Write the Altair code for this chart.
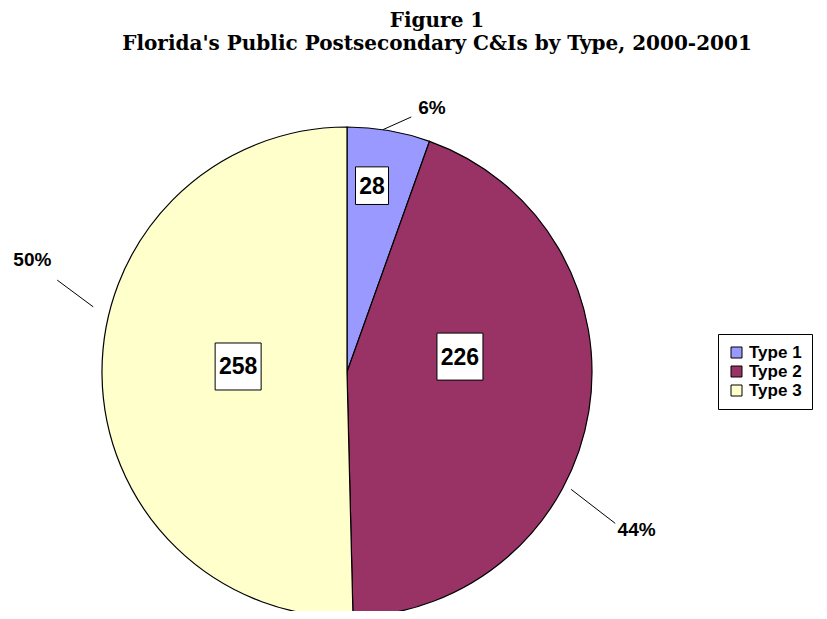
import math
import altair as alt
import pandas as pd

# ---- data ----
categories = ["Type 1", "Type 2", "Type 3"]
counts = [28, 226, 258]
colors = ["#9999FF", "#993366", "#FFFFCC"]
title_lines = ["Figure 1", "Florida's Public Postsecondary C&Is by Type, 2000-2001"]

# ---- layout (Excel-style manual label placement, degrees relative to slice mid, px radii) ----
box_dang = [-2.2, -16.9, 3.6]
box_r = [188, 114, 109]
pct_dang = [8.0, 19.5, 20.3]
pct_r = [277, 330, 334]
line_dang0 = [-1.4, 18.5, 15.1]
line_r0 = [245, 253, 262]
line_dang1 = [4.3, 20.3, 18.3]
line_r1 = [263, 308, 304]

CX, CY, R = 339, 364, 245
W, H = 811, 603

# percentages rounded so that they add up to 100 (largest remainder, as Excel shows)
tot = sum(counts)
raw = [100 * c / tot for c in counts]
fl = [math.floor(r) for r in raw]
left = 100 - sum(fl)
for i in sorted(range(len(raw)), key=lambda k: raw[k] - fl[k], reverse=True)[:left]:
    fl[i] += 1
pct_labels = [f"{p}%" for p in fl]

df = pd.DataFrame({
    "category": categories,
    "value": counts,
    "pct": pct_labels,
    "ord": list(range(len(categories))),
    "bda": box_dang, "br": box_r,
    "pda": pct_dang, "pr": pct_r,
    "la0": line_dang0, "lr0": line_r0,
    "la1": line_dang1, "lr1": line_r1,
})

base = alt.Chart(df).transform_joinaggregate(
    total="sum(value)"
).transform_window(
    cum="sum(value)", sort=[alt.SortField("ord")], frame=[None, 0]
).transform_calculate(
    mid="(datum.cum - datum.value/2)/datum.total*2*PI",
    lbl="toString(datum.value)",
).transform_calculate(
    ba="datum.mid + datum.bda*PI/180",
    pa="datum.mid + datum.pda*PI/180",
    a0="datum.mid + datum.la0*PI/180",
    a1="datum.mid + datum.la1*PI/180",
    nch="length(datum.lbl)",
).transform_calculate(
    bx=f"{CX} + datum.br*sin(datum.ba)",
    by=f"{CY} - datum.br*cos(datum.ba)",
    px=f"{CX} + datum.pr*sin(datum.pa)",
    py=f"{CY} - datum.pr*cos(datum.pa)",
    lx0=f"{CX} + datum.lr0*sin(datum.a0)",
    ly0=f"{CY} - datum.lr0*cos(datum.a0)",
    lx1=f"{CX} + datum.lr1*sin(datum.a1)",
    ly1=f"{CY} - datum.lr1*cos(datum.a1)",
    hw="6.5*datum.nch + 3.5",
    hh="4.7*datum.nch + 9.4",
).transform_calculate(
    bx0="datum.bx - datum.hw", bx1="datum.bx + datum.hw",
    by0="datum.by - datum.hh", by1="datum.by + datum.hh",
)

arcs = alt.Chart(df).mark_arc(radius=R, stroke="black", strokeWidth=1.2).encode(
    theta=alt.Theta("value:Q", stack=True),
    order=alt.Order("ord:Q"),
    color=alt.Color(
        "category:N",
        scale=alt.Scale(domain=categories, range=colors),
        legend=alt.Legend(
            title=None, orient="none", legendX=710, legendY=326,
            padding=10, strokeColor="black", fillColor="white",
            symbolType="square", symbolSize=121, symbolStrokeColor="black",
            symbolStrokeWidth=1, labelFont="Liberation Sans", labelFontWeight="bold",
            labelFontSize=17, labelColor="black", rowPadding=1, labelOffset=4,
            cornerRadius=0,
            labelExpr="datum.label + '\u00a0\u00a0\u00a0\u00a0\u00a0\u00a0\u00a0\u00a0'",
            labelLimit=400,
        ),
    ),
    x=alt.value(CX), y=alt.value(CY),
)

rules = base.mark_rule(color="black", strokeWidth=1).encode(
    x=alt.X("lx0:Q", scale=None), y=alt.Y("ly0:Q", scale=None),
    x2="lx1:Q", y2="ly1:Q",
)

boxes = base.mark_rect(fill="white", stroke="black", strokeWidth=1).encode(
    x=alt.X("bx0:Q", scale=None), x2="bx1:Q",
    y=alt.Y("by0:Q", scale=None), y2="by1:Q",
)

box_text = base.mark_text(font="Liberation Sans", fontWeight="bold", fontSize=23,
                          color="black", baseline="middle", align="center", dy=1).encode(
    x=alt.X("bx:Q", scale=None), y=alt.Y("by:Q", scale=None), text="lbl:N",
)

pct_text = base.mark_text(font="Liberation Sans", fontWeight="bold", fontSize=19,
                          color="black", baseline="middle", align="center").encode(
    x=alt.X("px:Q", scale=None), y=alt.Y("py:Q", scale=None), text="pct:N",
)

tdf = pd.DataFrame({"t": title_lines, "i": [0, 1]})
titles = alt.Chart(tdf).transform_calculate(
    ty="13 + datum.i*23"
).mark_text(font="DejaVu Serif", fontWeight="bold", fontSize=20, color="black",
            baseline="middle", align="center").encode(
    x=alt.value(429), y=alt.Y("ty:Q", scale=None), text="t:N",
)

chart = alt.layer(arcs, rules, boxes, box_text, pct_text, titles).properties(
    width=W, height=H, autosize=alt.AutoSizeParams(type="none"), padding=0,
).configure(background="white").configure_view(stroke=None, strokeWidth=0)

chart.save("out.html", embed_options={"renderer": "svg", "actions": False})
